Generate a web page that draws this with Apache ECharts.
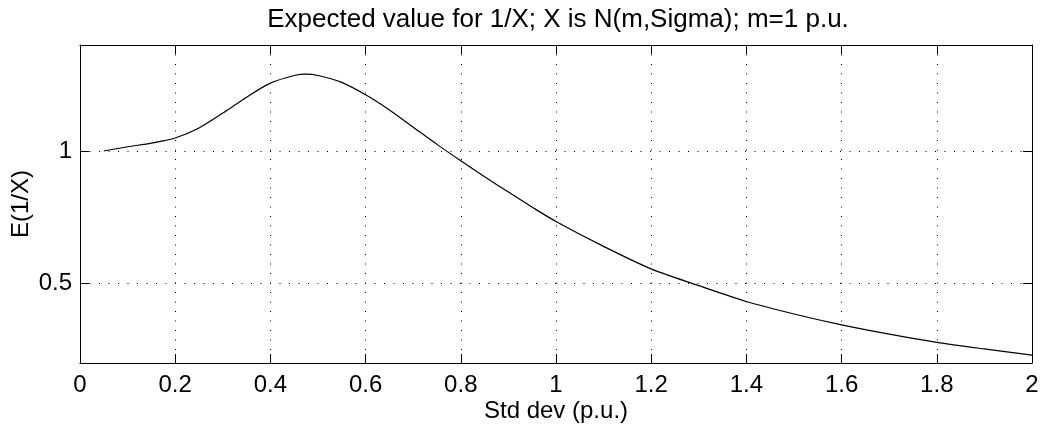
<!DOCTYPE html>
<html>
<head>
<meta charset="utf-8">
<script src="https://cdn.jsdelivr.net/npm/echarts@6/dist/echarts.min.js"></script>
<style>
html,body{margin:0;padding:0;background:#fff;}
#chart{width:1043px;height:432px;}
</style>
</head>
<body>
<div id="chart"></div>
<script>
const titleText = 'Expected value for 1/X; X is N(m,Sigma); m=1 p.u.';
const xName = 'Std dev (p.u.)';
const yName = 'E(1/X)';
const stdDev = [0.05, 0.1, 0.15, 0.2, 0.25, 0.3, 0.35, 0.4, 0.45, 0.475, 0.5, 0.55, 0.6, 0.65, 0.7, 0.75, 0.8, 0.85, 0.9, 0.95, 1.0, 1.1, 1.2, 1.3, 1.4, 1.5, 1.6, 1.7, 1.8, 1.9, 2.0];
const expInv = [1.0, 1.016, 1.03, 1.049, 1.087, 1.143, 1.203, 1.256, 1.285, 1.29, 1.285, 1.259, 1.212, 1.155, 1.09, 1.025, 0.963, 0.903, 0.845, 0.788, 0.734, 0.64, 0.555, 0.492, 0.432, 0.385, 0.344, 0.309, 0.278, 0.253, 0.230];
const yTicks = [0.5, 1];

const FONT = '"Liberation Sans", Arial, Helvetica, sans-serif';
const chart = echarts.init(document.getElementById('chart'));
const dotted = {show: true, lineStyle: {color: '#000', width: 1, type: [1, 8.5]}};
const axLine = {show: true, onZero: false, lineStyle: {color: '#000', width: 1}};
const tick = {show: true, inside: true, length: 9, lineStyle: {color: '#000', width: 1}};

chart.setOption({
  animation: false,
  backgroundColor: '#fff',
  title: {
    text: titleText, left: 553, top: 2, textAlign: 'center',
    textStyle: {fontFamily: FONT, fontSize: 26, fontWeight: 'normal', color: '#000'}
  },
  grid: {left: 80, right: 11, top: 45, bottom: 69, containLabel: false, outerBoundsMode: 'none'},
  xAxis: [{
    type: 'value', min: 0, max: 2, interval: 0.2, position: 'bottom',
    name: xName, nameLocation: 'middle', nameGap: 36, nameMoveOverlap: false,
    nameTextStyle: {fontFamily: FONT, fontSize: 24, color: '#000'},
    axisLine: axLine, axisTick: tick,
    axisLabel: {fontFamily: FONT, fontSize: 24, color: '#000', margin: 10,
      formatter: v => String(Math.round(v * 10) / 10)},
    splitLine: dotted
  }, {
    type: 'value', min: 0, max: 2, interval: 0.2, position: 'top',
    axisLine: axLine, axisTick: tick, axisLabel: {show: false}, splitLine: {show: false}
  }],
  yAxis: [{
    type: 'value', min: 0.2, max: 1.4, position: 'left',
    name: yName, nameLocation: 'middle', nameGap: 47, nameRotate: 90, nameMoveOverlap: false,
    nameTextStyle: {fontFamily: FONT, fontSize: 24, color: '#000'},
    axisLine: axLine,
    axisTick: Object.assign({}, tick, {customValues: yTicks}),
    axisLabel: {fontFamily: FONT, fontSize: 24, color: '#000', margin: 8, customValues: yTicks,
      formatter: v => String(v)},
    splitLine: dotted
  }, {
    type: 'value', min: 0.2, max: 1.4, position: 'right',
    axisLine: axLine,
    axisTick: Object.assign({}, tick, {customValues: yTicks}),
    axisLabel: {show: false, customValues: yTicks}, splitLine: {show: false}
  }],
  series: [{
    type: 'line', xAxisIndex: 0, yAxisIndex: 0,
    data: stdDev.map((x, i) => [x, expInv[i]]),
    showSymbol: false, symbol: 'none', smooth: 0.3,
    lineStyle: {color: '#000', width: 1.2}
  }]
});
</script>
</body>
</html>
